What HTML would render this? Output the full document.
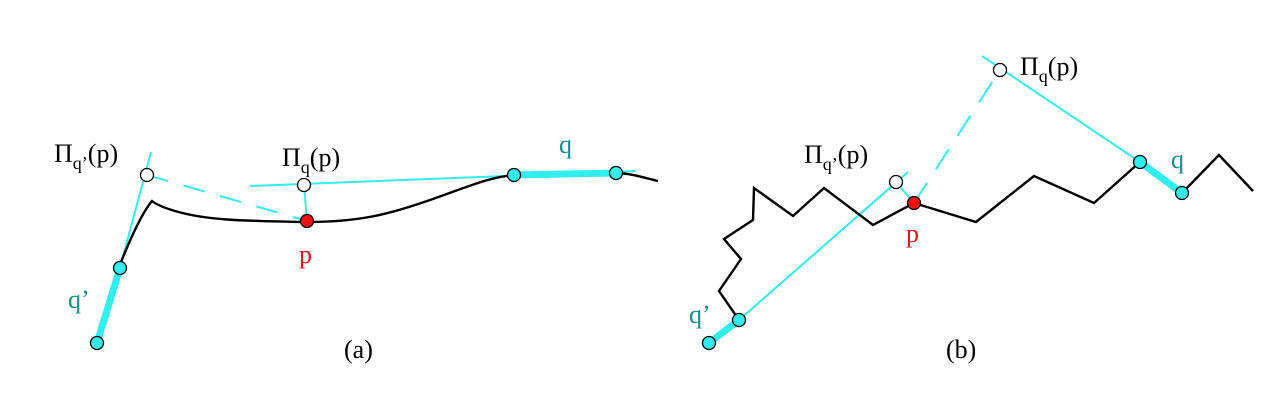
<!DOCTYPE html>
<html><head><meta charset="utf-8"><style>
html,body{margin:0;padding:0;background:#fff;}
svg{display:block;}
text{font-family:"Liberation Serif",serif;}
</style></head><body>
<svg width="1284" height="400" viewBox="0 0 1284 400">
<!-- Panel (a) -->
<g>
  <line x1="120" y1="268" x2="151" y2="152" stroke="#33eeee" stroke-width="2"/>
  <line x1="250" y1="186" x2="636" y2="171" stroke="#33eeee" stroke-width="2"/>
  <line x1="147" y1="175" x2="307" y2="221" stroke="#33eeee" stroke-width="2" stroke-dasharray="22,16"/>
  <line x1="304" y1="185" x2="307" y2="221" stroke="#33eeee" stroke-width="2"/>
  <path d="M121,262 Q140,215 152,201 Q158,206 175,211 C205,220 240,221 307,222 C360,222 390,214 430,200 C470,186 490,177 514,175 L616,173 C630,173 645,178 658,181" fill="none" stroke="#000" stroke-width="2.4"/>
  <line x1="97" y1="343" x2="120" y2="268" stroke="#33eeee" stroke-width="7"/>
  <line x1="514" y1="175" x2="616" y2="173" stroke="#33eeee" stroke-width="7"/>
  <circle cx="97" cy="343" r="6.5" fill="#33eeee" stroke="#000" stroke-width="1.3"/>
  <circle cx="120" cy="268" r="6.5" fill="#33eeee" stroke="#000" stroke-width="1.3"/>
  <circle cx="514" cy="175" r="6.5" fill="#33eeee" stroke="#000" stroke-width="1.3"/>
  <circle cx="616" cy="173" r="6.5" fill="#33eeee" stroke="#000" stroke-width="1.3"/>
  <circle cx="147" cy="175" r="6.5" fill="#fff" stroke="#000" stroke-width="1.3"/>
  <circle cx="304" cy="185" r="6.5" fill="#fff" stroke="#000" stroke-width="1.3"/>
  <circle cx="307" cy="221" r="6.5" fill="#ee1111" stroke="#000" stroke-width="1.3"/>
  <text x="54" y="162" font-size="26" fill="#000">Π<tspan font-size="18" dy="7">q’</tspan><tspan dy="-7">(p)</tspan></text>
  <text x="282" y="166" font-size="26" fill="#000">Π<tspan font-size="18" dy="7">q</tspan><tspan dy="-7">(p)</tspan></text>
  <text x="559" y="153" font-size="26" fill="#1a9090">q</text>
  <text x="68" y="308" font-size="26" fill="#1a9090">q’</text>
  <text x="299" y="263" font-size="26" fill="#ee1122">p</text>
  <text x="344" y="358" font-size="26" fill="#000">(a)</text>
</g>
<!-- Panel (b) -->
<g>
  <line x1="739" y1="320" x2="908" y2="172" stroke="#33eeee" stroke-width="2"/>
  <line x1="982" y1="56" x2="1140" y2="162" stroke="#33eeee" stroke-width="2"/>
  <line x1="914" y1="203" x2="1000" y2="70" stroke="#33eeee" stroke-width="2" stroke-dasharray="24,16"/>
  <line x1="896" y1="182" x2="914" y2="203" stroke="#33eeee" stroke-width="2"/>
  <polyline points="739,320 719,291 741,259 724,239 753,220 754,188 793,216 824,188 873,225 914,203 976,222 1034,176 1094,203 1140,162 1182,193 1219,155 1253,191" fill="none" stroke="#000" stroke-width="2.4"/>
  <line x1="709" y1="343" x2="739" y2="320" stroke="#33eeee" stroke-width="7"/>
  <line x1="1140" y1="162" x2="1182" y2="193" stroke="#33eeee" stroke-width="7"/>
  <circle cx="709" cy="343" r="6.5" fill="#33eeee" stroke="#000" stroke-width="1.3"/>
  <circle cx="739" cy="320" r="6.5" fill="#33eeee" stroke="#000" stroke-width="1.3"/>
  <circle cx="1140" cy="162" r="6.5" fill="#33eeee" stroke="#000" stroke-width="1.3"/>
  <circle cx="1182" cy="193" r="6.5" fill="#33eeee" stroke="#000" stroke-width="1.3"/>
  <circle cx="896" cy="182" r="6.5" fill="#fff" stroke="#000" stroke-width="1.3"/>
  <circle cx="1000" cy="70" r="6.5" fill="#fff" stroke="#000" stroke-width="1.3"/>
  <circle cx="914" cy="203" r="6.5" fill="#ee1111" stroke="#000" stroke-width="1.3"/>
  <text x="804" y="163" font-size="26" fill="#000">Π<tspan font-size="18" dy="7">q’</tspan><tspan dy="-7">(p)</tspan></text>
  <text x="1020" y="75" font-size="26" fill="#000">Π<tspan font-size="18" dy="7">q</tspan><tspan dy="-7">(p)</tspan></text>
  <text x="1171" y="168" font-size="26" fill="#1a9090">q</text>
  <text x="689" y="323" font-size="26" fill="#1a9090">q’</text>
  <text x="906" y="242" font-size="26" fill="#ee1122">p</text>
  <text x="946" y="358" font-size="26" fill="#000">(b)</text>
</g>
</svg>
</body></html>
